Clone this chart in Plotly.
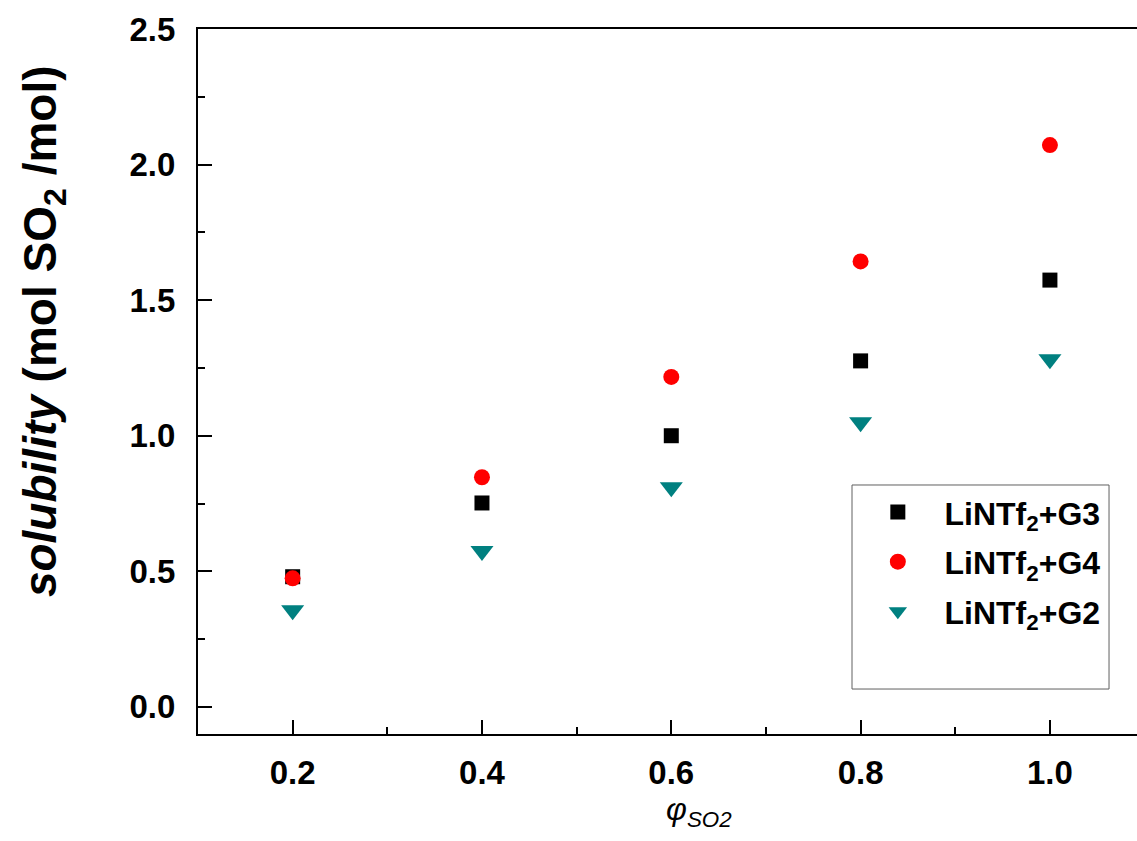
import plotly.graph_objects as go

# SO2 volume fraction in the feed gas
phi_so2 = [0.2, 0.4, 0.6, 0.8, 1.0]

# SO2 solubility, mol SO2 per mol of solvate
sol_g3 = [0.48, 0.752, 1.00, 1.276, 1.574]
sol_g4 = [0.474, 0.847, 1.217, 1.643, 2.072]
sol_g2 = [0.356, 0.575, 0.81, 1.05, 1.282]

y_ticks = [0.0, 0.5, 1.0, 1.5, 2.0, 2.5]
x_ticks = [0.2, 0.4, 0.6, 0.8, 1.0]

FONT = "Liberation Sans, Arial, sans-serif"
PAD = "&nbsp;&nbsp;&nbsp;"

fig = go.Figure()
fig.add_trace(go.Scatter(
    x=phi_so2, y=sol_g3, mode="markers", name=PAD + "LiNTf<sub>2</sub>+G3",
    legendgroup="g3",
    marker=dict(symbol="square", size=15, color="black")))
fig.add_trace(go.Scatter(
    x=phi_so2, y=sol_g4, mode="markers", name=PAD + "LiNTf<sub>2</sub>+G4",
    legendgroup="g4",
    marker=dict(symbol="circle", size=16, color="#ff0000")))
fig.add_trace(go.Scatter(
    x=phi_so2, y=sol_g2, mode="markers", name=PAD + "LiNTf<sub>2</sub>+G2",
    legendgroup="g2",
    marker=dict(symbol="triangle-down", size=20, color="#008080")))

axis_common = dict(
    showline=True, linecolor="black", linewidth=2,
    ticks="inside", ticklen=14, tickwidth=2, tickcolor="black",
    showgrid=False, zeroline=False,
    tickfont=dict(family=FONT, size=33, color="black", weight="bold"),
    tickformat=".1f",
)

fig.update_xaxes(
    **axis_common, range=[0.1, 1.092], tickvals=x_ticks, mirror=True,
    minor=dict(ticks="inside", ticklen=7, tickwidth=2, tickcolor="black",
               tickvals=[0.1, 0.3, 0.5, 0.7, 0.9]),
    ticklabelstandoff=8,
)
fig.update_yaxes(
    **axis_common, range=[-0.1, 2.5], tickvals=y_ticks,
    minor=dict(ticks="inside", ticklen=7, tickwidth=2, tickcolor="black",
               tickvals=[0.25, 0.75, 1.25, 1.75, 2.25]),
    ticklabelstandoff=14,
)

# legend frame
fig.add_shape(type="rect", xref="paper", yref="paper",
              x0=0.6965, x1=0.9702, y0=0.0638, y1=0.3532,
              line=dict(color="#606060", width=1), fillcolor="rgba(0,0,0,0)")

# axis titles
fig.add_annotation(
    xref="paper", yref="paper", x=-0.165, y=0.5716, showarrow=False,
    textangle=-90, xanchor="center", yanchor="middle",
    text="<b><i>solubility</i> (mol SO<sub>2</sub> /mol)</b>",
    font=dict(family=FONT, size=46, color="black"))
fig.add_annotation(
    xref="paper", yref="paper", x=0.534, y=-0.1106, showarrow=False,
    xanchor="center", yanchor="middle",
    text="<i>φ<sub>SO2</sub></i>",
    font=dict(family=FONT, size=32, color="black"))

fig.update_layout(
    width=1137, height=841,
    margin=dict(l=198, r=0, t=29, b=107),
    paper_bgcolor="white", plot_bgcolor="white",
    showlegend=True,
    legend=dict(x=0.724, y=0.3535, xanchor="left", yanchor="top",
                bgcolor="rgba(0,0,0,0)", borderwidth=0,
                font=dict(family=FONT, size=32, color="black", weight="bold"),
                itemsizing="trace", tracegroupgap=5),
)

fig.write_html("out.html")
